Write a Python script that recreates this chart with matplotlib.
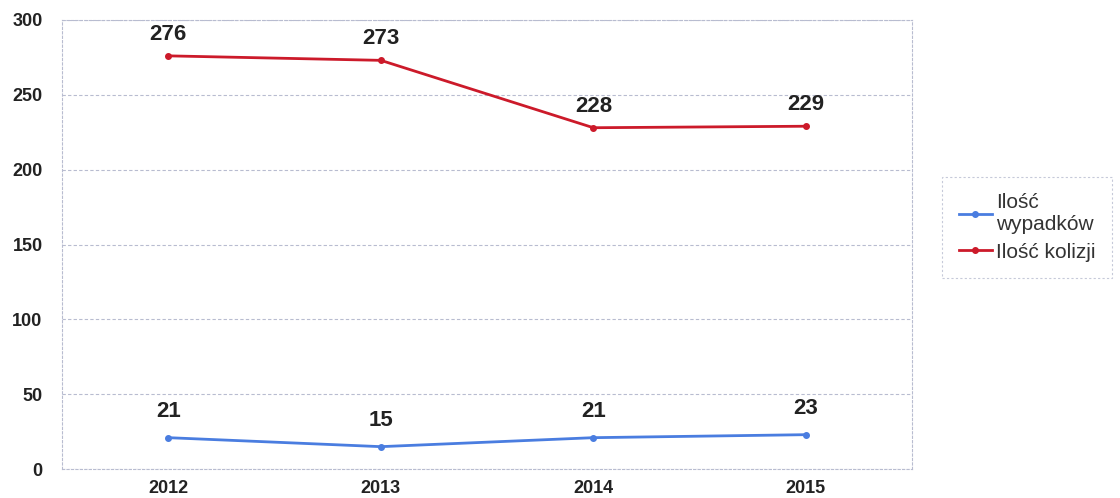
import matplotlib
matplotlib.use('Agg')
import matplotlib.pyplot as plt

plt.rcParams['font.family'] = ['Liberation Sans', 'DejaVu Sans']

# Data
years = ['2012', '2013', '2014', '2015']
wypadki = [21, 15, 21, 23]
kolizje = [276, 273, 228, 229]

fig = plt.figure(figsize=(11.2, 4.98), dpi=100)
ax = fig.add_axes([0.0554, 0.058, 0.759, 0.902])

x = range(len(years))
ax.plot(x, wypadki, color='#4a7de0', lw=2, marker='o', ms=4, label='Ilość\nwypadków')
ax.plot(x, kolizje, color='#cc1a2a', lw=2, marker='o', ms=4, label='Ilość kolizji')

# Value labels
for xi, v in zip(x, wypadki):
    ax.annotate(str(v), (xi, v), xytext=(0, 11), textcoords='offset points',
                ha='center', va='bottom', fontsize=16, fontweight='bold', color='#222222')
for xi, v in zip(x, kolizje):
    ax.annotate(str(v), (xi, v), xytext=(0, 8), textcoords='offset points',
                ha='center', va='bottom', fontsize=16, fontweight='bold', color='#222222')

ax.set_xlim(-0.5, 3.5)
ax.set_ylim(0, 300)
ax.set_yticks(range(0, 301, 50))
ax.set_xticks(list(x))
ax.set_xticklabels(years)
ax.tick_params(length=0, labelsize=13, colors='#222222', pad=8)
ax.tick_params(axis='y', pad=14)
for lab in ax.get_xticklabels() + ax.get_yticklabels():
    lab.set_fontweight('bold')

ax.grid(axis='y', color='#b8bcd0', linestyle=(0, (3, 2)), lw=0.8)
for s in ax.spines.values():
    s.set_color('#b8bcd0')
    s.set_linestyle((0, (2, 2)))
    s.set_linewidth(0.8)

leg = fig.legend(loc='upper left', bbox_to_anchor=(0.841, 0.645), fontsize=15,
                 frameon=True, fancybox=False, handlelength=1.6, handletextpad=0.2,
                 borderpad=0.8, labelspacing=0.4, labelcolor='#333333',
                 borderaxespad=0)
leg.get_frame().set_edgecolor('#b8bcd0')
leg.get_frame().set_linestyle((0, (2, 2)))
leg.get_frame().set_linewidth(0.8)

fig.savefig('out.png', dpi=100)
